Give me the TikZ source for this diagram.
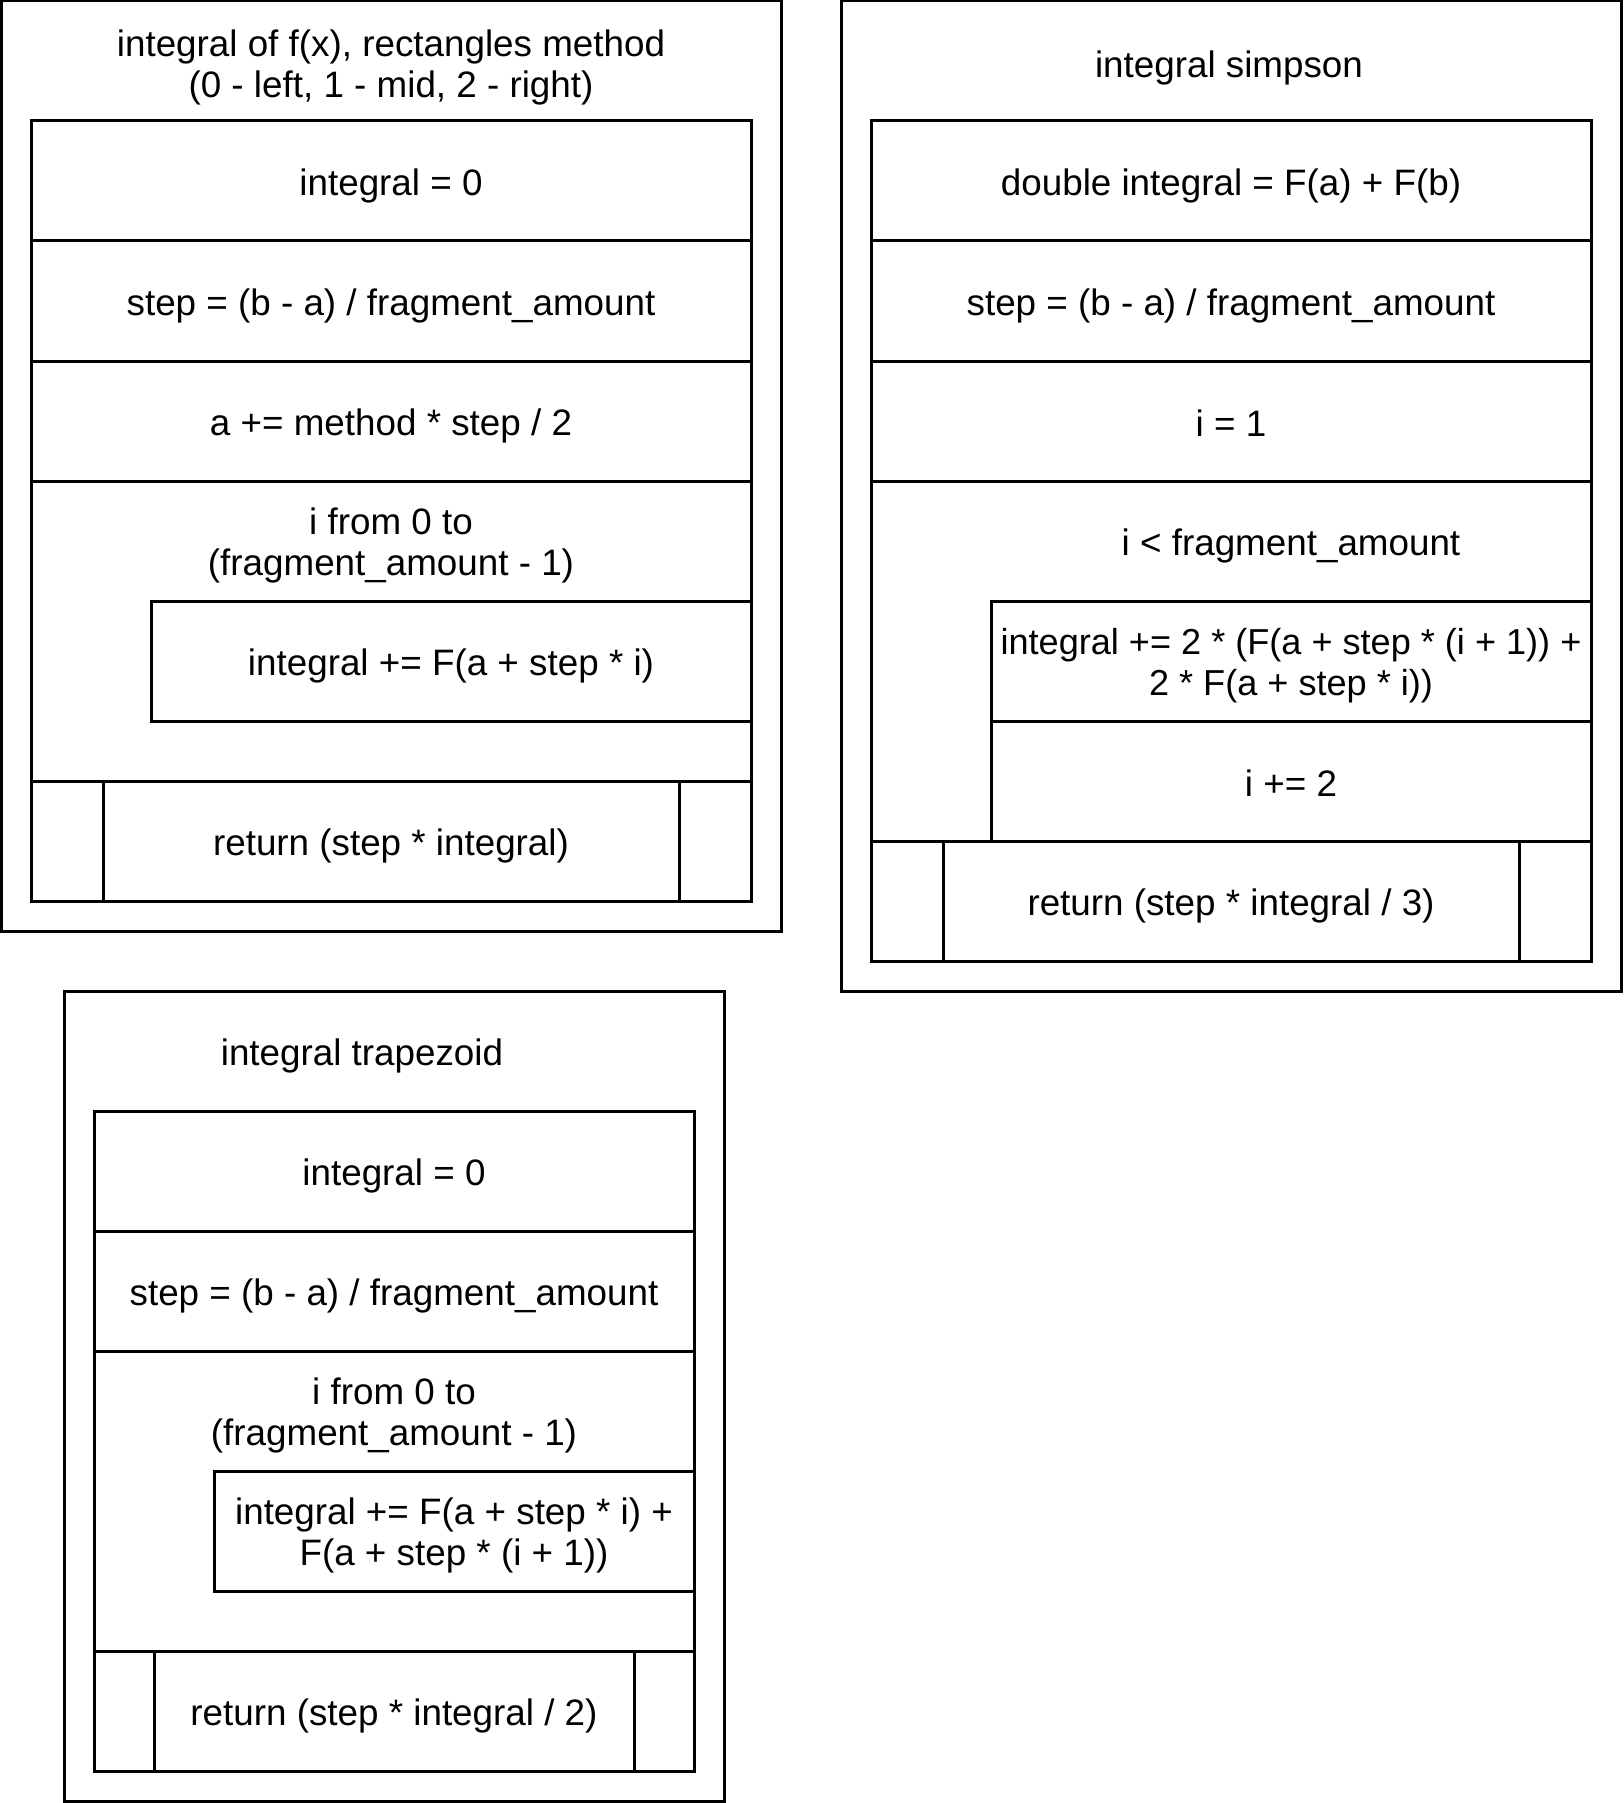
\documentclass[tikz,border=0pt]{standalone}
\usepackage{fontspec}
\setmainfont{Liberation Sans}
\begin{document}
\begin{tikzpicture}[x=1pt,y=-1pt,
  frame/.style={draw=black, line width=3pt},
  lbl/.style={align=center, inner sep=0pt, yshift=-4.5pt,
    font=\fontsize{36.8}{41.4}\selectfont},
  narrowlbl/.style={lbl, font=\fontsize{36.1}{41.4}\selectfont}]
\useasboundingbox (0,0) rectangle (1623,1803);
\fill[white] (0,0) rectangle (1623,1803);

% ---------- rectangles method ----------
\draw[frame] (1,1) rectangle (781,931);
\draw[frame] (31,121) rectangle (751,901);
\draw[frame] (31,241) -- (751,241);
\draw[frame] (31,361) -- (751,361);
\draw[frame] (31,481) -- (751,481);
\draw[frame] (151,601) rectangle (751,721);
\draw[frame] (31,781) -- (751,781);
\draw[frame] (103,781) -- (103,901);
\draw[frame] (679,781) -- (679,901);

\node[lbl] (rtitle) at (391,63) {integral of f(x), rectangles method\\(0 - left, 1 - mid, 2 - right)};
\node[lbl] (rinit) at (391,181) {integral = 0};
\node[lbl] (rstep) at (391,301) {step = (b - a) / fragment\_amount};
\node[lbl] (rshift) at (391,421) {a += method * step / 2};
\node[lbl] (rloop) at (391,541) {i from 0 to\\(fragment\_amount - 1)};
\node[lbl] (rbody) at (451,661) {integral += F(a + step * i)};
\node[lbl] (rret) at (391,841) {return (step * integral)};

% ---------- simpson ----------
\draw[frame] (841,1) rectangle (1621,991);
\draw[frame] (871,121) rectangle (1591,961);
\draw[frame] (871,241) -- (1591,241);
\draw[frame] (871,361) -- (1591,361);
\draw[frame] (871,481) -- (1591,481);
\draw[frame] (991,601) rectangle (1591,841);
\draw[frame] (991,721) -- (1591,721);
\draw[frame] (871,841) -- (1591,841);
\draw[frame] (943,841) -- (943,961);
\draw[frame] (1519,841) -- (1519,961);

\node[lbl] (stitle) at (1229,63) {integral simpson};
\node[lbl] (sinit) at (1231,181) {double integral = F(a) + F(b)};
\node[lbl] (sstep) at (1231,301) {step = (b - a) / fragment\_amount};
\node[lbl] (si) at (1231,419) {i = 1};
\node[lbl] (sloop) at (1291,541) {i < fragment\_amount};
\node[narrowlbl] (sbody) at (1291,661) {integral += 2 * (F(a + step * (i + 1)) +\\2 * F(a + step * i))};
\node[lbl] (sinc) at (1291,779) {i += 2};
\node[lbl] (sret) at (1231,901) {return (step * integral / 3)};

% ---------- trapezoid ----------
\draw[frame] (64,991) rectangle (724,1801);
\draw[frame] (94,1111) rectangle (694,1771);
\draw[frame] (94,1231) -- (694,1231);
\draw[frame] (94,1351) -- (694,1351);
\draw[frame] (214,1471) rectangle (694,1591);
\draw[frame] (94,1651) -- (694,1651);
\draw[frame] (154,1651) -- (154,1771);
\draw[frame] (634,1651) -- (634,1771);

\node[lbl] (ttitle) at (362,1051) {integral trapezoid};
\node[lbl] (tinit) at (394,1171) {integral = 0};
\node[lbl] (tstep) at (394,1291) {step = (b - a) / fragment\_amount};
\node[lbl] (tloop) at (394,1411) {i from 0 to\\(fragment\_amount - 1)};
\node[lbl] (tbody) at (454,1531) {integral += F(a + step * i) +\\F(a + step * (i + 1))};
\node[lbl] (tret) at (394,1711) {return (step * integral / 2)};
\end{tikzpicture}
\end{document}
